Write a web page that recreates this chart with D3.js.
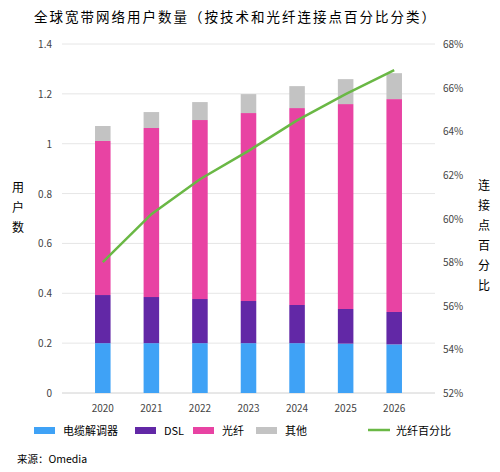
<!DOCTYPE html><html><head><meta charset="utf-8"><script src="https://cdn.jsdelivr.net/npm/d3@7"></script>
<style>body{margin:0;background:#fff}text{font-family:"Noto Sans CJK SC","DejaVu Sans",sans-serif}</style></head><body><svg id="c" width="500" height="472"></svg><script>
const years=["2020","2021","2022","2023","2024","2025","2026"];
const cable=[0.2,0.2,0.2,0.2,0.2,0.198,0.195];
const dsl=[0.193,0.185,0.177,0.169,0.153,0.139,0.13];
const fiber=[0.618,0.678,0.718,0.754,0.79,0.822,0.854];
const other=[0.06,0.064,0.072,0.076,0.088,0.1,0.104];
const pct=[58.0,60.2,61.8,63.1,64.5,65.7,66.8];
const leftTicks=[0,0.2,0.4,0.6,0.8,1,1.2,1.4];
const rightTicks=[52,54,56,58,60,62,64,66,68];
const svg=d3.select("#c");
const x=d3.scaleBand().domain(years).range([62,435]).padding(0.68);
const y=d3.scaleLinear().domain([0,1.4]).range([393,44]);
const y2=d3.scaleLinear().domain([52,68]).range([393,44]);
svg.append("g").selectAll("line").data(leftTicks).join("line").attr("x1",62).attr("x2",435).attr("y1",d=>y(d)).attr("y2",d=>y(d)).attr("stroke",d=>d===0?"#d0d0d0":"#e6e6e6");
svg.append("g").selectAll("text").data(leftTicks).join("text").attr("x",52).attr("y",d=>y(d)+4).attr("text-anchor","end").attr("font-size",10).attr("fill","#444").text(d=>d);
svg.append("g").selectAll("text").data(rightTicks).join("text").attr("x",443).attr("y",d=>y2(d)+4).attr("font-size",10).attr("fill","#444").text(d=>d+"%");
const series=[[cable,"#3fa2f6"],[dsl,"#6228a6"],[fiber,"#e843a3"],[other,"#c3c3c3"]];
const g=svg.append("g");
years.forEach((yr,i)=>{let base=0;series.forEach(([arr,col])=>{const v=arr[i];g.append("rect").attr("x",x(yr)).attr("width",x.bandwidth()).attr("y",y(base+v)).attr("height",y(base)-y(base+v)).attr("fill",col);base+=v;});});
svg.append("g").selectAll("text").data(years).join("text").attr("x",d=>x(d)+x.bandwidth()/2).attr("y",412).attr("text-anchor","middle").attr("font-size",10).attr("fill","#444").text(d=>d);
svg.append("path").datum(pct).attr("fill","none").attr("stroke","#6ab845").attr("stroke-width",2.5).attr("d",d3.line().x((d,i)=>x(years[i])+x.bandwidth()/2).y(d=>y2(d)));
svg.append("text").attr("x",34).attr("y",22).attr("font-size",13.5).attr("letter-spacing",2).text("全球宽带网络用户数量（按技术和光纤连接点百分比分类）");
["用","户","数"].forEach((c,i)=>svg.append("text").attr("x",12).attr("y",192+i*20).attr("font-size",12).text(c));
["连","接","点","百","分","比"].forEach((c,i)=>svg.append("text").attr("x",478).attr("y",190+i*20).attr("font-size",12).text(c));
const leg=[["电缆解调器","#3fa2f6",34],["DSL","#6228a6",135],["光纤","#e843a3",193],["其他","#c3c3c3",256]];
leg.forEach(([t,c,lx])=>{svg.append("rect").attr("x",lx).attr("y",427).attr("width",21).attr("height",7).attr("fill",c);svg.append("text").attr("x",lx+29).attr("y",435).attr("font-size",11).text(t);});
svg.append("line").attr("x1",368).attr("x2",390).attr("y1",430).attr("y2",430).attr("stroke","#6ab845").attr("stroke-width",2.5);
svg.append("text").attr("x",396).attr("y",435).attr("font-size",11).text("光纤百分比");
svg.append("text").attr("x",17).attr("y",463).attr("font-size",10.5).text("来源：Omedia");
</script></body></html>
